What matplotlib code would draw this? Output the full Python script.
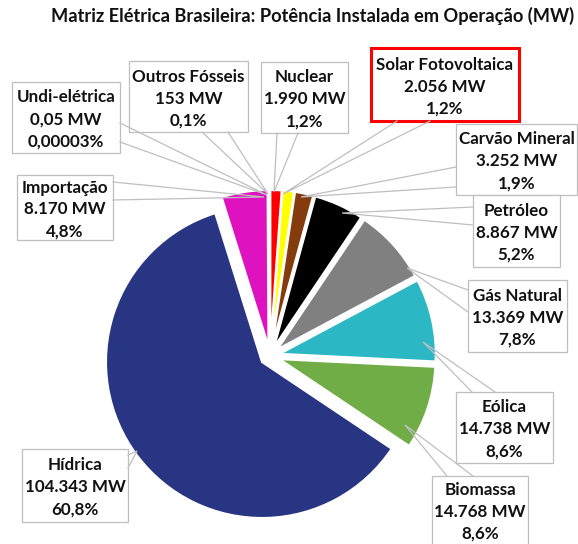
import matplotlib
matplotlib.use("Agg")
import matplotlib.pyplot as plt
from matplotlib.patches import Rectangle

# ---------------- data ----------------
sources = ["Nuclear", "Solar Fotovoltaica", "Carvão Mineral", "Petróleo",
           "Gás Natural", "Eólica", "Biomassa", "Hídrica", "Importação",
           "Undi-elétrica", "Outros Fósseis"]
power_mw = [1990, 2056, 3252, 8867, 13369, 14738, 14768, 104343, 8170, 0.05, 153]
mw_labels = ["1.990 MW", "2.056 MW", "3.252 MW", "8.867 MW", "13.369 MW",
             "14.738 MW", "14.768 MW", "104.343 MW", "8.170 MW", "0,05 MW", "153 MW"]
pct_labels = ["1,2%", "1,2%", "1,9%", "5,2%", "7,8%", "8,6%", "8,6%",
              "60,8%", "4,8%", "0,00003%", "0,1%"]
title = "Matriz Elétrica Brasileira: Potência Instalada em Operação (MW)"

# ---------------- styles ----------------
colors = ["#FF0000", "#FFFF00", "#843C0C", "#000000", "#808080", "#2CB7C5",
          "#70AD47", "#283582", "#DF12BF", "#4472C4", "#A5A5A5"]

# callout layout (pixel coords, y down): box (x0, y0, x1, y1), tip, base1, base2
layout = {
    "Nuclear":            ((261, 62, 348, 133), (274, 192), (277, 133), (298, 133)),
    "Solar Fotovoltaica": ((371, 48, 519, 121), (283, 194), (397, 121), (430, 121)),
    "Carvão Mineral":     ((456, 124, 577, 195), (301, 197), (456, 167), (456, 187)),
    "Petróleo":           ((473, 195, 560, 267), (342, 213), (473, 207), (473, 225)),
    "Gás Natural":        ((468, 280, 567, 352), (407, 268), (468, 290), (468, 312)),
    "Eólica":             ((456, 392, 553, 463), (423, 342), (472, 392), (495, 392)),
    "Biomassa":           ((432, 476, 528, 548), (405, 425), (447, 476), (473, 476)),
    "Hídrica":            ((22, 449, 128, 522), (137, 451), (128, 455), (128, 468)),
    "Importação":         ((17, 175, 113, 240), (264, 197), (113, 182), (113, 200)),
    "Undi-elétrica":      ((12, 82, 120, 153), (267, 195), (120, 123), (120, 142)),
    "Outros Fósseis":     ((129, 61, 248, 132), (268, 194), (202, 132), (228, 132)),
}

W, H = 578, 544
FONT = "Lato"
GRAY = "#BFBFBF"
TXT = "#111111"

fig = plt.figure(figsize=(W / 100, H / 100), dpi=100)
ax = fig.add_axes([0, 0, 1, 1])

# pie: screen-clockwise from 12 o'clock (y axis is inverted below)
ax.pie(power_mw, colors=colors, startangle=-90, counterclock=True,
       center=(270, 356), radius=156, explode=[10] * len(power_mw),
       wedgeprops=dict(edgecolor="white", linewidth=1.5), frame=True)

ax.set_xlim(0, W)
ax.set_ylim(H, 0)
ax.set_aspect("auto")
ax.axis("off")

renderer = fig.canvas.get_renderer()


def fit_size(text, target_px, base=10.0):
    t = ax.text(0, 0, text, fontsize=base, fontweight="bold", family=FONT)
    w = t.get_window_extent(renderer).width
    t.remove()
    return base * target_px / w


title_fs = fit_size(title, 521)
label_fs = fit_size("Solar Fotovoltaica", 137)

ax.text(312.5, 22, title, fontsize=title_fs, fontweight="bold", family=FONT,
        ha="center", va="baseline", color=TXT)

for name, mw, pct in zip(sources, mw_labels, pct_labels):
    (x0, y0, x1, y1), tip, b1, b2 = layout[name]
    red = name == "Solar Fotovoltaica"
    ax.add_patch(Rectangle((x0, y0), x1 - x0, y1 - y0, facecolor="white",
                           edgecolor="#FF0000" if red else GRAY,
                           linewidth=2.2 if red else 0.9, zorder=3))
    ax.plot([b1[0], tip[0], b2[0]], [b1[1], tip[1], b2[1]], color=GRAY,
            linewidth=0.9, zorder=4, solid_joinstyle="miter")
    cx, cy = (x0 + x1) / 2, (y0 + y1) / 2
    if name == "Biomassa":
        cy = 510
    for i, line in enumerate([name, mw, pct]):
        ax.text(cx, cy + 7 + (i - 1) * 22, line, fontsize=label_fs,
                fontweight="bold", family=FONT, ha="center", va="baseline",
                color=TXT, zorder=5)

fig.savefig("out.png", dpi=100, facecolor="white")
